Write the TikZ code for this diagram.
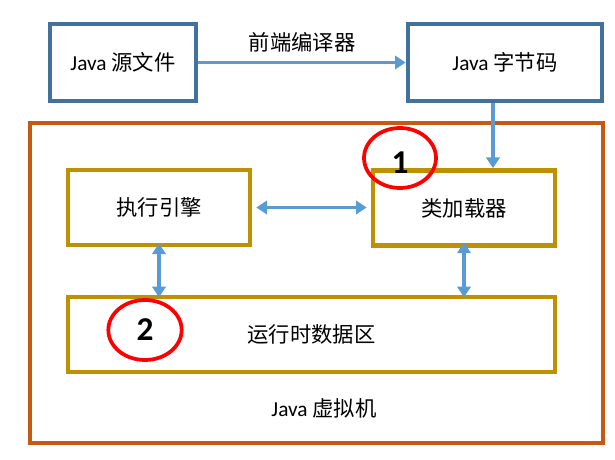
\documentclass[tikz,border=0pt]{standalone}
\usepackage{fontspec}
\setmainfont{Carlito}
\newfontfamily\cjk{Noto Sans CJK SC}
\usetikzlibrary{arrows.meta,shapes.geometric}
\definecolor{bluebox}{HTML}{41719C}
\definecolor{orangebox}{HTML}{C55A11}
\definecolor{goldbox}{HTML}{BF9000}
\definecolor{arrowblue}{HTML}{5B9BD5}
\tikzset{
  txt/.style={font=\fontsize{16}{19}\selectfont},
  srcbox/.style={draw=bluebox, line width=3.5pt, minimum width=#1, minimum height=57.75pt, inner sep=0pt, txt},
  jvmpart/.style={draw=goldbox, line width=3.5pt, minimum height=56.25pt, inner sep=0pt, txt},
  conn/.style={draw=arrowblue, line width=2.6pt, -{Triangle[length=8pt,width=10pt]}},
  biconn/.style={draw=arrowblue, line width=2.6pt, {Triangle[length=8pt,width=10pt]}-{Triangle[length=8pt,width=10pt]}},
  mark circle/.style={draw=red, line width=2.8pt, ellipse, minimum width=54pt, minimum height=45pt, inner sep=0pt},
  numtxt/.style={font=\fontsize{25}{28}\selectfont\bfseries},
}
\begin{document}
\begin{tikzpicture}[x=0.75pt,y=-0.75pt]
\useasboundingbox (0,0) rectangle (615,460);
% outer JVM box
\node[draw=orangebox, line width=2.6pt, minimum width=429.75pt, minimum height=240pt, inner sep=0pt] (jvm) at (316.5,283) {};
\node[txt] (jvmlabel) at (324,408) {Java {\cjk 虚拟机}};
% top boxes
\node[srcbox=109.5pt] (src) at (123,62.5) {Java {\cjk 源文件}};
\node[srcbox=145.5pt] (bc) at (505,62.5) {Java {\cjk 字节码}};
% inner boxes
\node[jvmpart, minimum width=136.5pt] (exec) at (159,207.5) {\cjk 执行引擎};
\node[jvmpart, minimum width=136.5pt] (loader) at (464,208) {\cjk 类加载器};
\node[jvmpart, minimum width=365.25pt] (rt) at (311.5,334.5) {\cjk 运行时数据区};
% connectors
\draw[conn] (src.east) -- node[above=3pt, txt, text=black] (fe) {\cjk 前端编译器} (bc.west);
\draw[conn] (bc.south -| 493,0) -- (loader.north -| 493,0);
\draw[biconn] ([xshift=3pt]exec.east) -- ([xshift=-3pt]loader.west |- exec.east);
\draw[biconn] ([yshift=3pt]exec.south) -- ([yshift=-2pt]rt.north -| exec.south);
\draw[biconn] ([yshift=4pt]loader.south) -- ([yshift=-2pt]rt.north -| loader.south);
% markers
\node[mark circle] (c1) at (400,158) {};
\node[numtxt] (n1) at (400,163) {1};
\node[mark circle, minimum width=55pt] (c2) at (145,330) {};
\node[numtxt] (n2) at (145,330) {2};
\end{tikzpicture}
\end{document}
